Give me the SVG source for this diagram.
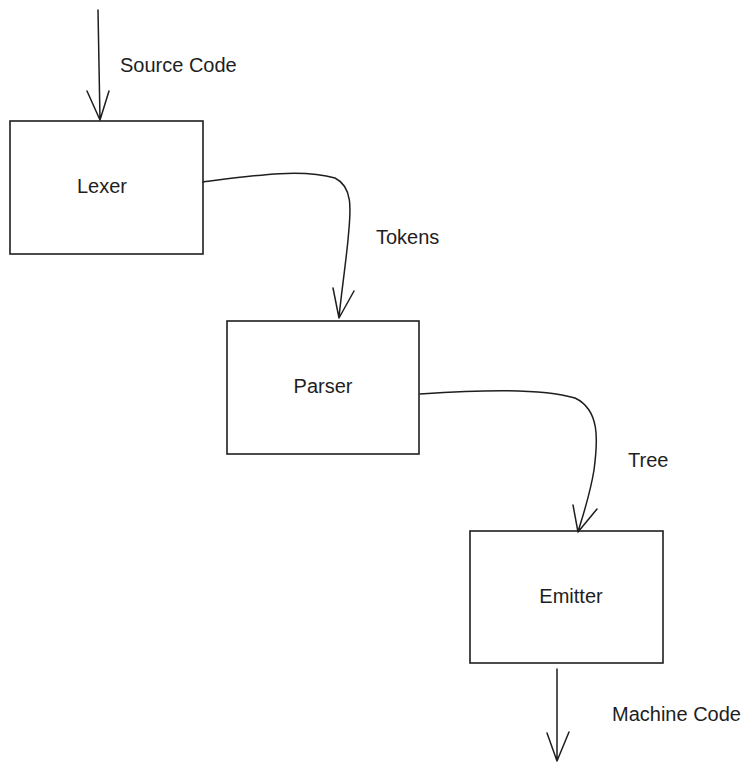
<svg xmlns="http://www.w3.org/2000/svg" width="750" height="772" viewBox="0 0 750 772">
<style>
.box{fill:#fff;stroke:#1e1e1e;stroke-width:1.6}
.ln{fill:none;stroke:#1e1e1e;stroke-width:1.5;stroke-linecap:round;stroke-linejoin:round}
.t{font-family:"Liberation Sans",Arial,sans-serif;font-size:20px;fill:#1e1e1e}
.c{text-anchor:middle}
</style>
<rect width="750" height="772" fill="#fff"/>
<g id="lexer">
<rect class="box" x="10" y="121" width="193" height="133"/>
<text class="t c" x="102" y="193">Lexer</text>
</g>
<g id="parser">
<rect class="box" x="227" y="321" width="192" height="133"/>
<text class="t c" x="323" y="393">Parser</text>
</g>
<g id="emitter">
<rect class="box" x="470" y="531" width="193" height="132"/>
<text class="t c" x="571" y="603">Emitter</text>
</g>
<g id="connectors">
<path class="ln" d="M98,10 L100,120 M87,91 L100,120 L109,91"/>
<path class="ln" d="M203,182 C250,176 300,168 335,178 C355,188 350,215 348,240 C345,270 341,295 339,318 M333,288 L339,318 L354,291"/>
<path class="ln" d="M420,394 C480,390 540,388 575,398 C600,410 598,440 594,470 C590,495 583,515 578,532 M573,505 L578,532 L597,509"/>
<path class="ln" d="M557,669 L557,761 M547,733 L557,761 L569,732"/>
</g>
<g id="labels">
<text class="t" x="120" y="72">Source Code</text>
<text class="t" x="376" y="244">Tokens</text>
<text class="t" x="628" y="467">Tree</text>
<text class="t" x="612" y="721">Machine Code</text>
</g>
</svg>
